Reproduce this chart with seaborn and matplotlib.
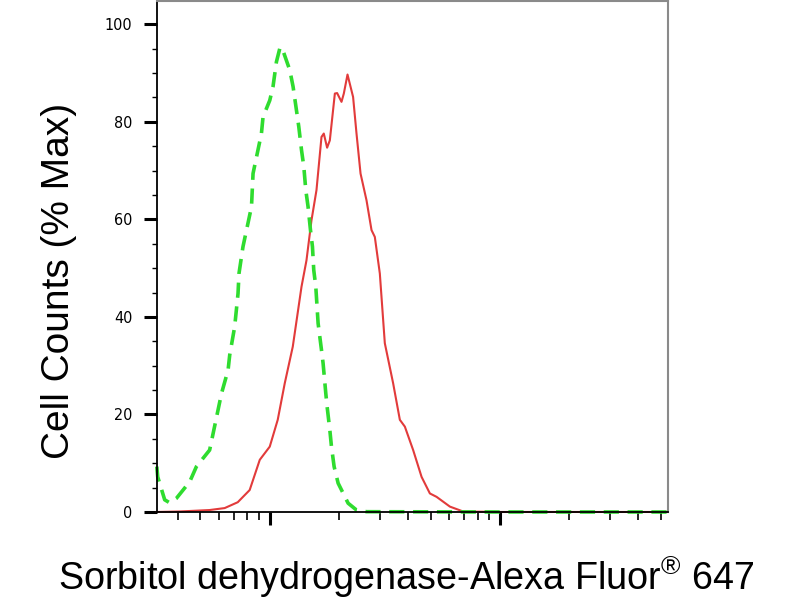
import numpy as np
import pandas as pd
import matplotlib
matplotlib.use("Agg")
import matplotlib.pyplot as plt
from matplotlib.ticker import LogLocator, MultipleLocator, NullFormatter
import seaborn as sns

# fluorescence intensity (log axis) and cell counts (% max)
red_x = [32.3, 40.6, 54.8, 63.7, 72.6, 81.8, 90.5, 100, 108.3, 116.2, 125.9, 137.4,
         144.4, 151.8, 159.6, 167.8, 171.7, 177.5, 182.4, 191.8, 196.2, 205, 209.8,
         217.7, 230.2, 238.2, 248, 263.3, 276.8, 286.1, 300.8, 316.2, 343.6, 367.5,
         386.4, 419.8, 456.7, 496.3, 530.7, 606.4, 692.4, 1000, 5375]
red_y = [0, 0.1, 0.4, 0.8, 2.0, 4.5, 10.7, 13.4, 18.9, 26.4, 33.9, 46.2,
         51.6, 59.8, 66, 76.9, 77.6, 74.7, 76.2, 85.8, 85.9, 84.1, 85.8,
         89.7, 85.1, 77.6, 69.4, 63.9, 57.8, 56.4, 48.9, 34.6, 26.4, 18.9,
         17.5, 12.7, 7.2, 3.8, 3.1, 1.1, 0.1, 0, 0]

green_x = [32.3, 32.6, 34.95, 36.7, 39.3, 44.9, 48.0, 54.8, 59.6, 61.7, 65.9, 67.0,
           70.4, 72.8, 73.5, 76.5, 83.3, 84.6, 92.0, 93.5, 100, 103.3, 106.9, 110.5,
           112.8, 122.2, 126.3, 130.6, 133.7, 137.4, 140.6, 143.4, 146.7, 150.3,
           153.3, 155.3, 158.5, 162.2, 167.8, 170.5, 175.2, 177.5, 182.4, 185.4,
           190.4, 198.2, 219.0, 238.2, 263.3, 1000, 5375]
green_y = [9.3, 7.2, 2.5, 1.9, 2.8, 6.2, 9.3, 12.7, 20.9, 24.3, 29.1, 32.2,
           38, 44.8, 48.9, 54.4, 62.6, 69.4, 77.6, 81, 84.4, 87.2, 92.3, 95,
           95.3, 90.6, 87.2, 82.4, 79, 74.2, 70.8, 66, 62.6, 57.8,
           54.4, 49.6, 46.2, 38.7, 33.2, 30.5, 24.3, 21.6, 16.8, 13.4,
           9.3, 5.9, 1.8, 0.4, 0.06, 0, 0]

y_ticks = [0, 20, 40, 60, 80, 100]

red_df = pd.DataFrame({"intensity": red_x, "pct": red_y})
green_df = pd.DataFrame({"intensity": green_x, "pct": green_y})

sns.set_style("white")
plt.rcParams["font.family"] = ["Liberation Sans", "DejaVu Sans"]
plt.rcParams["mathtext.fontset"] = "custom"
plt.rcParams["mathtext.rm"] = "Liberation Sans"
plt.rcParams["text.color"] = "black"
plt.rcParams["ytick.labelcolor"] = "black"

fig = plt.figure(figsize=(8, 6), dpi=100)
ax = fig.add_axes([0.196, 0.1467, 0.639, 0.851])

sns.lineplot(data=red_df, x="intensity", y="pct", color="#e23b3b",
             linewidth=1.5, sort=False, estimator=None, ax=ax)
sns.lineplot(data=green_df, x="intensity", y="pct", color="#2fdc2f",
             linewidth=2.6, linestyle=(0, (4.2, 2.4)), sort=False,
             estimator=None, ax=ax)
for ln in ax.lines:
    ln.set_clip_on(False)

ax.set_xscale("log")
ax.set_xlim(32.3, 5375)
ax.set_ylim(0, 104.7)

ax.xaxis.set_major_locator(LogLocator(base=10))
ax.xaxis.set_minor_locator(LogLocator(base=10, subs=np.arange(2, 10)))
ax.xaxis.set_major_formatter(NullFormatter())
ax.xaxis.set_minor_formatter(NullFormatter())
ax.set_yticks(y_ticks)
ax.set_yticklabels([str(t) for t in y_ticks], fontsize=11.5, color="black",
                   family=["DejaVu Sans"], fontstretch="condensed")
ax.yaxis.set_minor_locator(MultipleLocator(5))

ax.tick_params(axis="both", which="major", direction="out", length=9.5,
               width=2.2, color="black", left=True, bottom=True)
ax.tick_params(axis="y", which="major", pad=8)
ax.tick_params(axis="x", which="minor", direction="out", length=5.5,
               width=1.2, color="black", bottom=True)
ax.tick_params(axis="y", which="minor", direction="out", length=3.6,
               width=1.0, color="black", left=True)

for side in ["left", "bottom"]:
    ax.spines[side].set_color("black")
    ax.spines[side].set_linewidth(1.3)
for side in ["top", "right"]:
    ax.spines[side].set_color("#8a8a8a")
    ax.spines[side].set_linewidth(1.5)

ax.set_xlabel("")
ax.set_ylabel("")
fig.text(0.074, 0.532, "Cell Counts (% Max)", rotation=90, fontsize=28,
         ha="center", va="center", color="black")
fig.text(0.5075, 0.017, "Sorbitol dehydrogenase-Alexa Fluor$^{®}$ 647",
         fontsize=27.2, ha="center", va="baseline", color="black")

fig.savefig("out.png", dpi=100)
